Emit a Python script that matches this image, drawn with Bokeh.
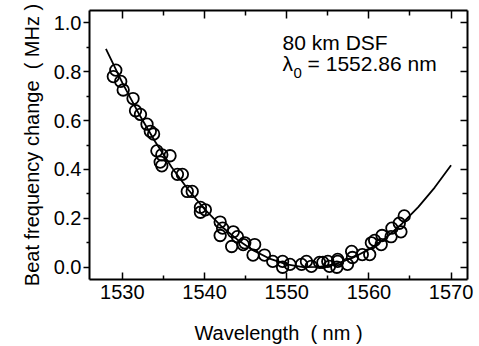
from bokeh.plotting import figure
from bokeh.models import Range1d, LinearAxis, FixedTicker, Label, PrintfTickFormatter
from bokeh.embed import file_html
from bokeh.resources import INLINE

# measured data (wavelength nm, beat frequency change MHz)
meas_x = [1528.9, 1529.2, 1529.8, 1530.1, 1531.3, 1531.6, 1532.2, 1533.0, 1533.4, 1533.8,
          1534.2, 1534.6, 1534.8, 1535.8, 1534.8, 1536.7, 1537.3, 1537.9, 1538.5, 1539.5,
          1540.1, 1539.5, 1541.9, 1542.2, 1541.9, 1543.5, 1544.0, 1543.3, 1544.7, 1544.9,
          1546.1, 1545.9, 1547.3, 1548.3, 1549.5, 1549.5, 1550.4, 1551.8, 1552.4, 1553.0,
          1554.0, 1555.2, 1556.2, 1554.4, 1555.0, 1556.2, 1556.1, 1557.4, 1557.9, 1558.0,
          1559.2, 1560.1, 1560.3, 1560.7, 1561.5, 1561.6, 1562.7, 1562.8, 1563.7, 1563.9,
          1564.3]
meas_y = [0.780, 0.806, 0.760, 0.725, 0.690, 0.640, 0.625, 0.585, 0.556, 0.545,
          0.476, 0.430, 0.460, 0.456, 0.415, 0.380, 0.380, 0.310, 0.310, 0.245,
          0.235, 0.225, 0.185, 0.160, 0.130, 0.145, 0.125, 0.085, 0.093, 0.100,
          0.093, 0.050, 0.050, 0.024, 0.024, 0.000, 0.012, 0.012, 0.024, 0.004,
          0.020, 0.004, 0.024, 0.020, 0.024, 0.032, 0.000, 0.012, 0.065, 0.040,
          0.052, 0.052, 0.100, 0.110, 0.093, 0.130, 0.125, 0.160, 0.180, 0.145,
          0.210]

# fitted curve
fit_x = [1528, 1530, 1532, 1534, 1536, 1538, 1540, 1542, 1544, 1546, 1548, 1550,
         1552, 1554, 1556, 1558, 1560, 1562, 1564, 1566, 1568, 1570]
fit_y = [0.893, 0.754, 0.628, 0.513, 0.409, 0.318, 0.238, 0.169, 0.113, 0.068, 0.034, 0.012,
         0.001, 0.002, 0.014, 0.038, 0.073, 0.119, 0.177, 0.246, 0.326, 0.417]

x_major = [1530, 1540, 1550, 1560, 1570]
x_minor = [1535, 1545, 1555, 1565]
y_major = [0.0, 0.2, 0.4, 0.6, 0.8, 1.0]
y_minor = [0.1, 0.3, 0.5, 0.7, 0.9]

FONT = "Liberation Sans"
NB = "\u00a0"

p = figure(width=479, height=346, x_range=Range1d(1526, 1572), y_range=Range1d(-0.05, 1.05),
           output_backend="svg", toolbar_location=None,
           min_border_left=89, min_border_right=12, min_border_top=10, min_border_bottom=66,
           x_axis_location=None, y_axis_location=None)
p.grid.visible = False
p.outline_line_color = None
p.background_fill_color = "white"

xt = FixedTicker(ticks=x_major, minor_ticks=x_minor)
yt = FixedTicker(ticks=y_major, minor_ticks=y_minor)


def style(ax):
    ax.axis_line_width = 2
    ax.axis_line_color = "black"
    ax.major_tick_line_width = 1.5
    ax.minor_tick_line_width = 1.5
    ax.major_tick_line_color = "black"
    ax.minor_tick_line_color = "black"
    ax.major_label_text_font = FONT
    ax.major_label_text_font_size = "20px"
    ax.major_label_text_color = "black"
    ax.axis_label_text_font = FONT
    ax.axis_label_text_font_size = "20px"
    ax.axis_label_text_font_style = "normal"
    ax.axis_label_text_color = "black"


bottom = LinearAxis(ticker=xt, formatter=PrintfTickFormatter(format="%d"),
                    axis_label="Wavelength" + NB + NB + "(" + NB + "nm" + NB + ")")
style(bottom)
bottom.major_tick_in = 7
bottom.major_tick_out = 0
bottom.minor_tick_in = 4
bottom.minor_tick_out = 0
bottom.major_label_standoff = 5
bottom.axis_label_standoff = 20
p.add_layout(bottom, "below")

left = LinearAxis(ticker=yt, formatter=PrintfTickFormatter(format="%.1f"),
                  axis_label="Beat frequency change" + NB + NB + "(" + NB + "MHz" + NB + ")")
style(left)
left.major_tick_in = 0
left.major_tick_out = 6
left.minor_tick_in = 0
left.minor_tick_out = 3
left.major_label_standoff = 2
left.axis_label_standoff = 8
p.add_layout(left, "left")

top = LinearAxis(ticker=xt)
style(top)
top.major_tick_in = 8
top.major_tick_out = 0
top.minor_tick_in = 5
top.minor_tick_out = 0
top.major_label_text_font_size = "1px"
top.major_label_text_color = None
top.major_label_standoff = 0
p.add_layout(top, "above")

right = LinearAxis(ticker=yt)
style(right)
right.major_tick_in = 7
right.major_tick_out = 0
right.minor_tick_in = 5
right.minor_tick_out = 0
right.major_label_text_font_size = "1px"
right.major_label_text_color = None
right.major_label_standoff = 0
p.add_layout(right, "right")

p.line(fit_x, fit_y, line_color="black", line_width=1.8)
p.scatter(meas_x, meas_y, marker="circle", size=11.5, fill_alpha=0,
          line_color="black", line_width=1.8)

p.add_layout(Label(x=1549.5, y=0.871, text="80 km DSF", text_font=FONT,
                   text_font_size="21px", text_color="black"))
p.add_layout(Label(x=1549.5, y=0.785, text="λ", text_font=FONT,
                   text_font_size="21px", text_color="black"))
p.add_layout(Label(x=1549.5, y=0.785, x_offset=11, y_offset=-3, text="0", text_font=FONT,
                   text_font_size="15px", text_color="black"))
p.add_layout(Label(x=1549.5, y=0.785, x_offset=25, text="= 1552.86 nm", text_font=FONT,
                   text_font_size="21px", text_color="black"))

open("out.html", "w").write(file_html(p, INLINE))
